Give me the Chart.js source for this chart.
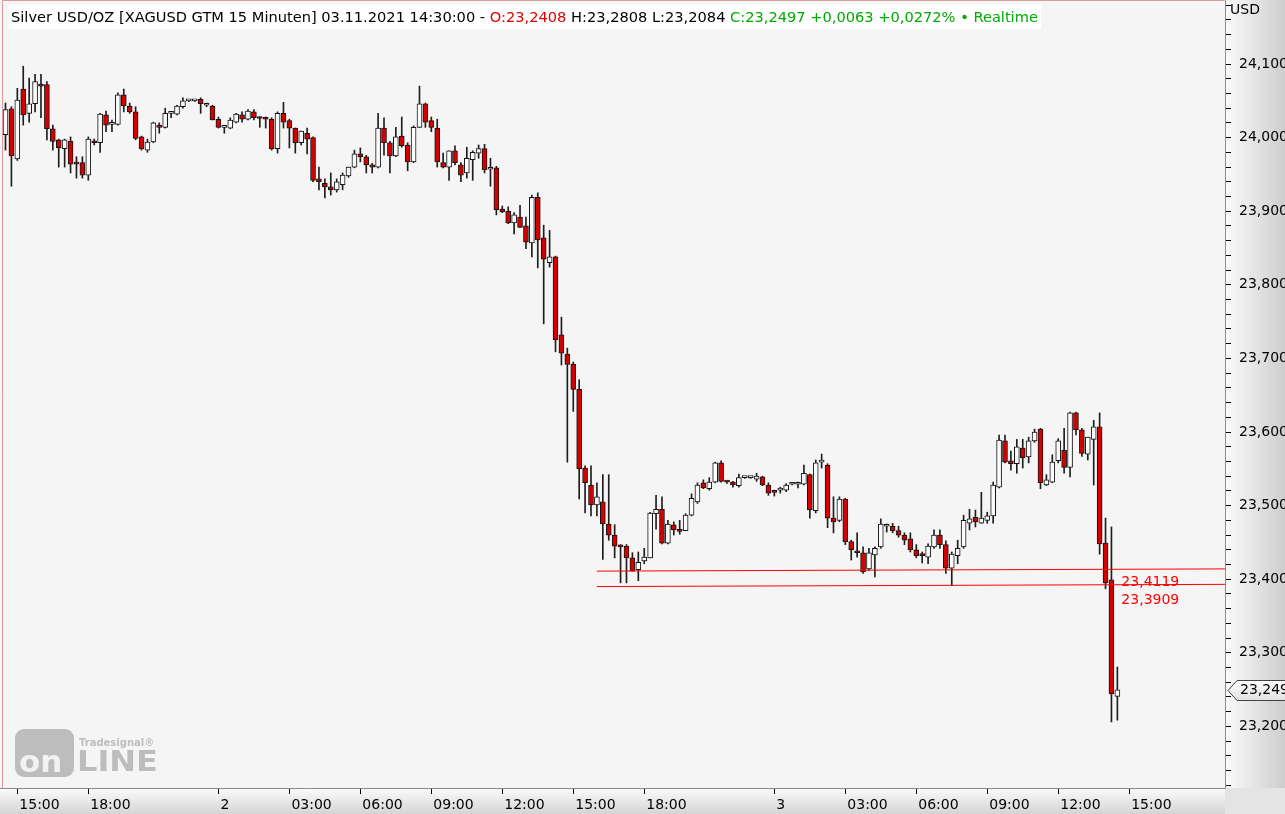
<!DOCTYPE html>
<html>
<head>
<meta charset="utf-8">
<script src="https://cdn.jsdelivr.net/npm/chart.js@4.4.1/dist/chart.umd.min.js"></script>
<style>
  html, body { margin: 0; padding: 0; background: #f5f5f5; overflow: hidden; }
  #wrap { width: 1285px; height: 814px; }
</style>
</head>
<body>
<div id="wrap"><canvas id="chart" width="1285" height="814"></canvas></div>
<script>
// --- DATEN: 15-Minuten-Kerzen XAGUSD, 01.11. 14:30 bis 03.11. 14:30 ---
const opens = [
  24.004,24.039,23.971,24.066,24.033,24.046,24.072,24.072,24.012,23.997,
  23.985,23.995,23.966,23.966,23.949,23.995,23.993,24.031,24.018,24.018,
  24.058,24.043,24.035,24.001,23.983,23.994,24.017,24.014,24.033,24.032,
  24.042,24.050,24.050,24.052,24.044,24.043,24.025,24.014,24.013,24.021,
  24.031,24.025,24.035,24.027,24.026,24.025,23.985,24.033,24.023,24.013,
  23.993,24.006,24.000,23.944,23.938,23.933,23.929,23.936,23.948,23.960,
  23.978,23.974,23.963,23.960,24.013,23.993,23.975,24.002,23.990,23.967,
  24.014,24.046,24.023,24.013,23.966,23.960,23.982,23.963,23.952,23.970,
  23.979,23.985,23.957,23.959,23.903,23.900,23.884,23.892,23.880,23.857,
  23.919,23.864,23.830,23.838,23.732,23.706,23.692,23.658,23.551,23.528,
  23.501,23.505,23.475,23.460,23.445,23.445,23.429,23.413,23.425,23.429,
  23.489,23.495,23.449,23.474,23.466,23.466,23.487,23.505,23.531,23.523,
  23.532,23.558,23.533,23.532,23.527,23.538,23.538,23.536,23.539,23.528,
  23.519,23.521,23.521,23.529,23.529,23.529,23.542,23.493,23.559,23.555,
  23.483,23.480,23.509,23.451,23.437,23.436,23.414,23.433,23.444,23.472,
  23.472,23.466,23.460,23.455,23.440,23.433,23.430,23.444,23.460,23.447,
  23.415,23.432,23.444,23.476,23.484,23.476,23.480,23.486,23.525,23.588,
  23.561,23.557,23.578,23.566,23.588,23.604,23.528,23.532,23.561,23.575,
  23.552,23.626,23.603,23.570,23.590,23.607,23.449,23.399,23.2408
];
const highs = [
  24.047,24.042,24.067,24.097,24.081,24.086,24.086,24.076,24.017,23.998,
  23.998,24.001,23.974,23.974,24.001,23.998,24.033,24.036,24.024,24.061,
  24.066,24.047,24.042,24.002,23.998,24.021,24.020,24.040,24.035,24.044,
  24.054,24.051,24.051,24.054,24.047,24.044,24.028,24.015,24.027,24.033,
  24.035,24.038,24.038,24.028,24.028,24.027,24.035,24.048,24.025,24.013,
  24.009,24.013,24.001,23.960,23.944,23.952,23.944,23.952,23.960,23.983,
  23.986,23.976,23.965,24.033,24.027,23.995,24.014,24.028,23.993,24.016,
  24.070,24.047,24.028,24.025,23.979,23.982,23.989,23.966,23.987,23.982,
  23.990,23.991,23.972,23.961,23.907,23.906,23.898,23.908,23.892,23.922,
  23.925,23.881,23.874,23.839,23.756,23.714,23.695,23.671,23.554,23.554,
  23.531,23.542,23.542,23.474,23.447,23.447,23.436,23.437,23.442,23.491,
  23.514,23.512,23.480,23.478,23.480,23.489,23.516,23.531,23.535,23.538,
  23.559,23.561,23.534,23.533,23.543,23.539,23.539,23.544,23.540,23.531,
  23.521,23.525,23.530,23.530,23.532,23.555,23.543,23.562,23.570,23.557,
  23.512,23.512,23.510,23.453,23.463,23.444,23.442,23.444,23.482,23.475,
  23.476,23.472,23.463,23.463,23.447,23.437,23.448,23.467,23.467,23.452,
  23.437,23.453,23.487,23.495,23.494,23.518,23.491,23.532,23.596,23.596,
  23.574,23.590,23.590,23.593,23.604,23.605,23.542,23.569,23.591,23.605,
  23.627,23.627,23.605,23.593,23.616,23.626,23.483,23.471,23.2808
];
const lows = [
  23.983,23.934,23.969,24.017,24.021,24.035,24.027,23.997,23.983,23.960,
  23.960,23.952,23.945,23.945,23.942,23.990,23.980,24.008,24.008,24.017,
  24.035,24.033,23.997,23.983,23.980,23.993,24.006,24.013,24.027,24.031,
  24.040,24.049,24.049,24.033,24.042,24.024,24.013,24.006,24.012,24.020,
  24.021,24.024,24.024,24.014,24.013,23.983,23.979,24.013,23.986,23.979,
  23.990,23.978,23.940,23.929,23.918,23.922,23.926,23.929,23.946,23.959,
  23.967,23.952,23.952,23.959,23.976,23.952,23.974,23.987,23.955,23.966,
  24.014,24.014,24.008,23.960,23.959,23.942,23.963,23.940,23.945,23.942,
  23.972,23.952,23.934,23.895,23.898,23.883,23.869,23.878,23.849,23.838,
  23.823,23.747,23.824,23.709,23.691,23.559,23.628,23.509,23.490,23.486,
  23.486,23.427,23.453,23.429,23.395,23.395,23.411,23.398,23.421,23.429,
  23.468,23.448,23.448,23.460,23.461,23.466,23.486,23.503,23.523,23.521,
  23.531,23.532,23.530,23.525,23.525,23.537,23.537,23.533,23.527,23.514,
  23.513,23.517,23.519,23.528,23.524,23.528,23.483,23.490,23.551,23.470,
  23.463,23.478,23.447,23.426,23.430,23.408,23.412,23.403,23.442,23.464,
  23.463,23.457,23.447,23.437,23.429,23.422,23.421,23.442,23.442,23.408,
  23.391,23.421,23.442,23.467,23.471,23.476,23.476,23.476,23.524,23.558,
  23.548,23.544,23.551,23.558,23.586,23.523,23.527,23.531,23.558,23.544,
  23.539,23.596,23.567,23.562,23.528,23.434,23.387,23.206,23.2084
];
const closes = [
  24.038,23.975,24.051,24.031,24.046,24.076,24.070,24.012,23.995,23.986,
  23.997,23.964,23.964,23.949,23.998,23.993,24.032,24.017,24.018,24.058,
  24.043,24.035,23.999,23.985,23.994,24.020,24.014,24.033,24.034,24.043,
  24.050,24.050,24.050,24.046,24.044,24.024,24.014,24.014,24.024,24.032,
  24.025,24.036,24.027,24.026,24.025,23.985,24.033,24.021,24.013,23.993,
  24.009,23.998,23.942,23.940,23.933,23.929,23.940,23.949,23.960,23.978,
  23.974,23.963,23.960,24.013,23.993,23.975,24.001,23.989,23.967,24.014,
  24.046,24.021,24.014,23.967,23.960,23.982,23.966,23.949,23.972,23.980,
  23.985,23.956,23.957,23.902,23.899,23.884,23.895,23.878,23.858,23.919,
  23.861,23.835,23.838,23.725,23.707,23.692,23.658,23.550,23.531,23.501,
  23.512,23.475,23.460,23.445,23.444,23.429,23.411,23.423,23.430,23.490,
  23.495,23.449,23.475,23.467,23.465,23.487,23.510,23.528,23.524,23.532,
  23.558,23.533,23.532,23.528,23.538,23.538,23.538,23.540,23.528,23.517,
  23.518,23.522,23.528,23.529,23.530,23.544,23.494,23.558,23.560,23.483,
  23.478,23.509,23.451,23.440,23.436,23.410,23.436,23.442,23.475,23.473,
  23.466,23.460,23.453,23.440,23.432,23.432,23.445,23.460,23.447,23.415,
  23.434,23.442,23.480,23.482,23.478,23.483,23.486,23.528,23.589,23.559,
  23.557,23.580,23.565,23.588,23.600,23.531,23.535,23.559,23.588,23.552,
  23.626,23.603,23.571,23.593,23.607,23.448,23.395,23.244,23.2497
];

// Zeitachse: Position (Kerzen-Index) und Beschriftung
const timeTickIdx = [2, 14, 36, 48, 60, 72, 84, 96, 108, 130, 142, 154, 166, 178, 190];
const timeLabels = ['15:00', '18:00', '2', '03:00', '06:00', '09:00', '12:00', '15:00', '18:00', '3', '03:00', '06:00', '09:00', '12:00', '15:00'];

// Preisachse: beschriftete Werte
const priceTicks = [23.2, 23.3, 23.4, 23.5, 23.6, 23.7, 23.8, 23.9, 24.0, 24.1];

// Unterstützungslinien (Start-/End-Index und Preis)
const supportIdx = [100, 206.2];
const supportUpper = [23.411, 23.414];
const supportLower = [23.390, 23.393];
const supportLabels = ['23,4119', '23,3909'];
const supportLabelShift = [13, 16];

const lastClose = 23.2497;
const titleParts = [
  { text: 'Silver USD/OZ [XAGUSD GTM 15 Minuten] 03.11.2021 14:30:00 - ', color: '#000000' },
  { text: 'O:23,2408', color: '#e00000' },
  { text: ' H:23,2808 L:23,2084 ', color: '#000000' },
  { text: 'C:23,2497 +0,0063 +0,0272% \u2022 Realtime', color: '#00aa00' }
];

const FONT = '"DejaVu Sans", Verdana, sans-serif';
const fmt = v => v.toFixed(4).replace('.', ',');
const idx = opens.map((_, i) => i);

// keine zusätzlichen Ränder für Achsenbeschriftungen
const noPadding = s => { s.paddingTop = 0; s.paddingBottom = 0; s.paddingLeft = 0; s.paddingRight = 0; };

// --- Hintergrund, Wasserzeichen, Titel und Markierungen ---
const decor = {
    id: 'decor',
    beforeDraw(chart) {
        const { ctx, chartArea: a, width, height } = chart;
        ctx.save();
        ctx.fillStyle = '#f5f5f5';
        ctx.fillRect(a.left, a.top, a.right - a.left, a.bottom - a.top);

        let g = ctx.createLinearGradient(a.right, 0, width, 0);
        g.addColorStop(0, '#fbfbfb');
        g.addColorStop(1, '#cdcdcd');
        ctx.fillStyle = g;
        ctx.fillRect(a.right, 0, width - a.right, a.bottom);

        g = ctx.createLinearGradient(0, a.bottom, 0, height);
        g.addColorStop(0, '#fbfbfb');
        g.addColorStop(1, '#d4d4d4');
        ctx.fillStyle = g;
        ctx.fillRect(0, a.bottom, a.right, height - a.bottom);

        ctx.fillStyle = '#e4e4e4';
        ctx.fillRect(a.right, a.bottom, width - a.right, height - a.bottom);

        // Wasserzeichen "Tradesignal online"
        ctx.fillStyle = '#bdbdbd';
        ctx.beginPath();
        ctx.roundRect(15, 729, 59, 48, 9);
        ctx.fill();
        ctx.fillStyle = '#f2f2f2';
        ctx.font = `bold 31px ${FONT}`;
        ctx.textBaseline = 'alphabetic';
        ctx.textAlign = 'left';
        ctx.fillText('on', 19, 772);
        ctx.fillStyle = '#bdbdbd';
        ctx.save();
        ctx.font = `bold 28px ${FONT}`;
        const wLine = ctx.measureText('LINE').width;
        ctx.translate(77, 771);
        ctx.scale(81 / wLine, 1);
        ctx.fillText('LINE', 0, 0);
        ctx.restore();
        ctx.font = `bold 10px ${FONT}`;
        ctx.fillText('Tradesignal\u00ae', 79, 746);
        ctx.restore();
    },
    afterDraw(chart) {
        const { ctx, chartArea: a, scales } = chart;
        ctx.save();

        // Rahmen des Chartbereichs
        ctx.strokeStyle = '#dc9a9a';
        ctx.lineWidth = 1;
        ctx.beginPath();
        ctx.moveTo(2.5, a.bottom);
        ctx.lineTo(2.5, 0.5);
        ctx.lineTo(a.right - 0.5, 0.5);
        ctx.stroke();

        // Titelzeile
        ctx.font = `14px ${FONT}`;
        const full = titleParts.map(p => p.text).join('');
        const size = 14 * 1027 / ctx.measureText(full).width;
        ctx.font = `${size}px ${FONT}`;
        ctx.fillStyle = '#ffffff';
        ctx.fillRect(8, 5, 1033, 24);
        ctx.textBaseline = 'middle';
        ctx.textAlign = 'left';
        let x = 11;
        titleParts.forEach(p => {
            ctx.fillStyle = p.color;
            ctx.fillText(p.text, x, 18);
            x += ctx.measureText(p.text).width;
        });

        // Einheit
        ctx.font = `14px ${FONT}`;
        ctx.fillStyle = '#000';
        ctx.fillText('USD', a.right + 5, 10);

        // Beschriftung der Unterstützungslinien
        const lx = scales.x.getPixelForValue(188) + 4;
        const t = (188 - supportIdx[0]) / (supportIdx[1] - supportIdx[0]);
        ctx.fillStyle = '#ff0000';
        [supportUpper, supportLower].forEach((line, k) => {
            const v = line[0] + (line[1] - line[0]) * t;
            ctx.fillText(supportLabels[k], lx, scales.y.getPixelForValue(v) + supportLabelShift[k]);
        });

        // Kursmarke am rechten Rand
        const py = Math.round(scales.y.getPixelForValue(lastClose)) + 0.5;
        ctx.beginPath();
        ctx.moveTo(a.right + 3, py);
        ctx.lineTo(a.right + 12, py - 10);
        ctx.lineTo(a.right + 70, py - 10);
        ctx.lineTo(a.right + 70, py + 10);
        ctx.lineTo(a.right + 12, py + 10);
        ctx.closePath();
        const g = ctx.createLinearGradient(0, py - 10, 0, py + 10);
        g.addColorStop(0, '#fdfdfd');
        g.addColorStop(1, '#e2e2e2');
        ctx.fillStyle = g;
        ctx.fill();
        ctx.strokeStyle = '#444';
        ctx.stroke();
        ctx.fillStyle = '#000';
        ctx.fillText(fmt(lastClose), a.right + 15, py);
        ctx.restore();
    }
};

const ctx = document.getElementById('chart').getContext('2d');
new Chart(ctx, {
    type: 'bar',
    data: {
        datasets: [
            {
                label: 'Docht',
                data: idx.map(i => ({ x: i, y: [lows[i], highs[i]] })),
                backgroundColor: '#1e1e1e',
                barThickness: 1,
                grouped: false,
                order: 3
            },
            {
                label: 'Körper',
                data: idx.map(i => ({ x: i, y: [opens[i], closes[i]] })),
                backgroundColor: idx.map(i => closes[i] >= opens[i] ? '#fbfbfb' : '#d40000'),
                borderColor: '#141414',
                borderWidth: 1,
                borderSkipped: false,
                barThickness: 5,
                minBarLength: 2,
                grouped: false,
                order: 2
            },
            {
                type: 'line',
                label: 'Oben',
                data: supportIdx.map((v, k) => ({ x: v, y: supportUpper[k] })),
                borderColor: '#ff0000',
                borderWidth: 1,
                pointRadius: 0,
                order: 1
            },
            {
                type: 'line',
                label: 'Unten',
                data: supportIdx.map((v, k) => ({ x: v, y: supportLower[k] })),
                borderColor: '#ff0000',
                borderWidth: 1,
                pointRadius: 0,
                order: 1
            }
        ]
    },
    options: {
        responsive: false,
        animation: false,
        devicePixelRatio: 1,
        layout: { padding: 0 },
        plugins: {
            legend: { display: false },
            tooltip: { enabled: false },
            title: { display: false }
        },
        scales: {
            x: {
                type: 'linear',
                min: -0.93,
                max: 206.2,
                offset: false,
                grid: { offset: false, drawOnChartArea: false, tickLength: 6, tickColor: '#000' },
                border: { color: '#8a8a8a' },
                afterBuildTicks: s => { s.ticks = timeTickIdx.map(v => ({ value: v })); },
                afterFit: s => { s.height = 26; noPadding(s); },
                ticks: {
                    autoSkip: false,
                    maxRotation: 0,
                    align: 'start',
                    labelOffset: 2,
                    padding: 3,
                    color: '#000',
                    font: { family: FONT, size: 14 },
                    callback: v => timeLabels[timeTickIdx.indexOf(v)] ?? ''
                }
            },
            y: {
                type: 'linear',
                position: 'right',
                min: 23.1163,
                max: 24.187,
                grid: { drawOnChartArea: false, tickLength: 6, tickColor: '#000' },
                border: { color: '#8a8a8a' },
                afterBuildTicks: s => {
                    const t = [];
                    for (let k = 1156; k <= 1209; k++) t.push({ value: k / 50 });
                    s.ticks = t;
                },
                afterFit: s => { s.width = 60; noPadding(s); },
                ticks: {
                    autoSkip: false,
                    padding: 8,
                    color: '#000',
                    font: { family: FONT, size: 14 },
                    callback: v => priceTicks.some(p => Math.abs(p - v) < 1e-6) ? fmt(v) : ''
                }
            }
        }
    },
    plugins: [decor]
});
</script>
</body>
</html>
